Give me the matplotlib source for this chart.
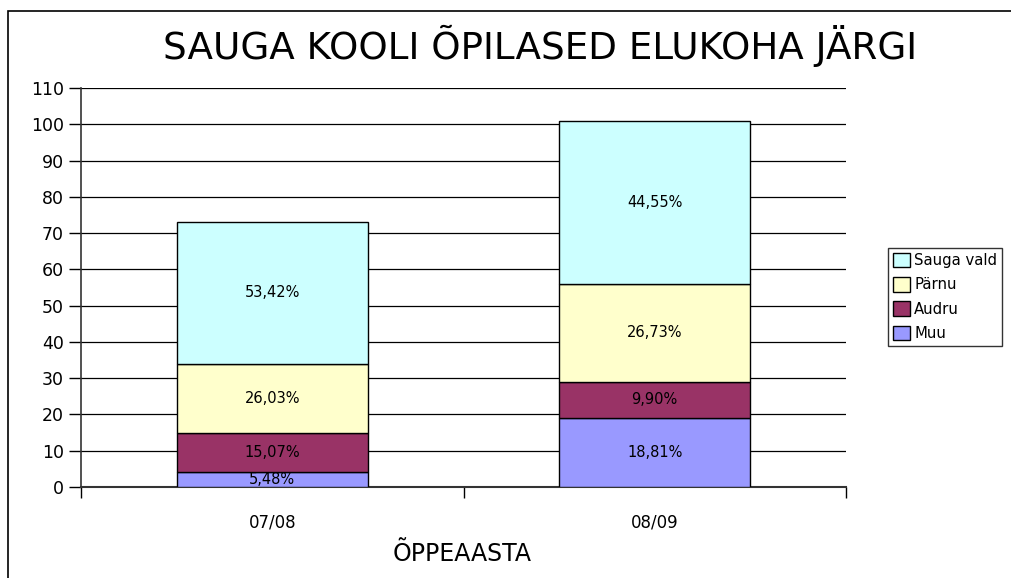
import matplotlib
matplotlib.use("Agg")
import matplotlib.pyplot as plt
from matplotlib.patches import Rectangle
import numpy as np

plt.rcParams['font.family'] = ['DejaVu Sans']

categories = ["07/08", "08/09"]
series_names = ["Muu", "Audru", "Pärnu", "Sauga vald"]
muu = [4, 19]
audru = [11, 10]
parnu = [19, 27]
sauga = [39, 45]
labels = [["5,48%", "18,81%"], ["15,07%", "9,90%"], ["26,03%", "26,73%"], ["53,42%", "44,55%"]]
colors = ["#9999FF", "#993366", "#FFFFCC", "#CCFFFF"]
title = "SAUGA KOOLI ÕPILASED ELUKOHA JÄRGI"
xlabel = "ÕPPEAASTA"
yticks = list(range(0, 111, 10))

W, H = 1011, 578
fig = plt.figure(figsize=(W / 100, H / 100), dpi=100)
fig.patches.append(Rectangle((8 / W, -0.1), 1.2, (H - 11) / H + 0.1, transform=fig.transFigure,
                             fill=False, edgecolor="black", linewidth=1.2))

ax = fig.add_axes([81 / W, 1 - 487 / H, (846 - 81) / W, (487 - 88) / H])
x = np.arange(len(categories))
bottom = np.zeros(len(categories))
handles = []
for vals, name, col, labs in zip([muu, audru, parnu, sauga], series_names, colors, labels):
    vals = np.array(vals, dtype=float)
    b = ax.bar(x, vals, 0.5, bottom=bottom, color=col, edgecolor="black", linewidth=1, label=name, zorder=3)
    handles.append(b)
    for xi, v, bt, lab in zip(x, vals, bottom, labs):
        ax.text(xi, bt + v / 2, lab, ha="center", va="center", fontsize=10.5, zorder=4)
    bottom += vals

ax.set_xlim(-0.5, 1.5)
ax.set_ylim(0, 110)
ax.set_yticks(yticks)
ax.yaxis.grid(True, color="black", linewidth=0.9, zorder=0)
ax.set_axisbelow(True)
ax.tick_params(axis="y", direction="out", length=8.5, width=1, labelsize=12.5, pad=4)
ax.set_xticks(x)
ax.set_xticklabels(categories)
ax.tick_params(axis="x", which="major", length=0, labelsize=12, pad=19)
ax.set_xticks([-0.5, 0.5, 1.5], minor=True)
ax.tick_params(axis="x", which="minor", direction="out", length=8, width=1)
for s in ["top", "right"]:
    ax.spines[s].set_visible(False)
ax.spines["left"].set_linewidth(1.2)
ax.spines["left"].set_color("#333333")
ax.spines["bottom"].set_linewidth(1.5)
ax.spines["bottom"].set_color("#333333")

fig.text(462 / W, 1 - 554 / H, xlabel, ha="center", va="center", fontsize=17)
fig.text(540 / W, 1 - 46 / H, title, ha="center", va="center", fontsize=26.8)

leg = fig.legend(handles[::-1], series_names[::-1], loc="upper left",
                 bbox_to_anchor=(888 / W, 1 - 248 / H), frameon=True, fancybox=False,
                 fontsize=10.7, handlelength=1.1, handleheight=1.1, handletextpad=0.3,
                 labelspacing=0.6, borderpad=0.35, borderaxespad=0)
leg.get_frame().set_edgecolor("black")
leg.get_frame().set_linewidth(1)

fig.savefig("out.png", dpi=100)
